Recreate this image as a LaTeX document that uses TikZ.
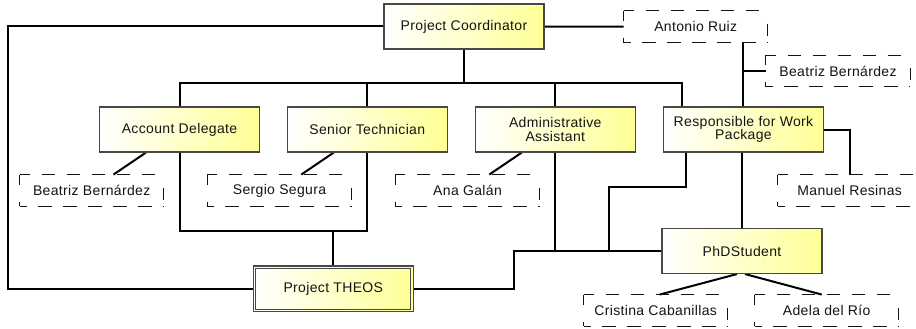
\documentclass[tikz,border=0pt]{standalone}
\usepackage{fontspec}
\setmainfont{Liberation Sans}[LetterSpace=2.5]
\usetikzlibrary{calc,backgrounds}

\definecolor{boxyellow}{RGB}{255,255,150}
\definecolor{rim}{RGB}{72,72,72}
\definecolor{ink}{RGB}{20,20,20}
\newcommand\lbl{\fontsize{14pt}{13.5pt}\selectfont}

\tikzset{
  role/.style={rectangle, draw=rim, line width=1.1pt, left color=white, right color=boxyellow,
    minimum width=160pt, minimum height=45pt, inner sep=0pt, align=center, font=\lbl, text=ink},
  dashline/.style={draw=ink, line width=1pt},
  dashtop/.style={dashline, dash pattern=on 13pt off 12pt, dash phase=3pt},
  dashbottom/.style={dashline, dash pattern=on 14pt off 11pt, dash phase=7pt},
  dashleft/.style={dashline, dash pattern=on 10pt off 17pt on 10pt off 10pt},
  dashright/.style={dashline, dash pattern=on 0pt off 13pt on 12pt off 20pt},
  person/.style={rectangle, minimum width=144pt, minimum height=31.5pt, inner sep=0pt,
    font=\lbl, text=ink,
    append after command={
      (\tikzlastnode.north west) edge[dashtop] (\tikzlastnode.north east)
      (\tikzlastnode.south west) edge[dashbottom] (\tikzlastnode.south east)
      (\tikzlastnode.north west) edge[dashleft] (\tikzlastnode.south west)
      (\tikzlastnode.north east) edge[dashright] (\tikzlastnode.south east)}},
  link/.style={draw=black, line width=2pt},
}

\begin{document}
\begin{tikzpicture}[x=1pt, y=-1pt]
  \useasboundingbox (0,0) rectangle (916,329);
  \clip (0,0) rectangle (916,329);

  % roles
  \node[role] (pc)  at (464,26.5)   {Project Coordinator};
  \node[role] (ad)  at (179.5,129.5) {Account Delegate};
  \node[role] (st)  at (367.3,129.5) {Senior Technician};
  \node[role] (aa)  at (555.3,129.5) {Administrative\\Assistant};
  \node[role] (rwp) at (743.5,129.5) {Responsible for Work\\Package};
  \node[role, minimum height=45.7pt] (theos) at (333.3,288.8) {Project THEOS};
  \node[role] (phd) at (742,251)     {PhDStudent};
  \draw[draw=rim, line width=0.9pt] ([shift={(3,3)}]theos.north west) rectangle ([shift={(-3,-3)}]theos.south east);

  % people
  \node[person] (ar)  at (695.7,26.7)  {Antonio Ruiz};
  \node[person] (bbr) at (838,71)      {Beatriz Bernárdez};
  \node[person] (bbl) at (91.7,190.5)  {Beatriz Bernárdez};
  \node[person] (ss)  at (279.5,190.5) {Sergio Segura};
  \node[person] (ag)  at (467.5,190.5) {Ana Galán};
  \node[person] (mr)  at (849.7,190.5) {Manuel Resinas};
  \node[person] (cc)  at (655.7,310.5) {Cristina Cabanillas};
  \node[person] (adr) at (826.7,310.5) {Adela del Río};

  % junction points
  \coordinate (farleft) at (8.3,288.8);
  \coordinate (bus)     at (464,82.7);
  \coordinate (joinlow) at (333.3,231);
  \coordinate (stepup)  at (514.3,251);
  \coordinate (kink)    at (608.7,186.7);
  \coordinate (arfoot)  at ([xshift=-25pt]ar.south east);
  \coordinate (rwpfoot) at ([xshift=22.7pt]rwp.south west);
  \coordinate (rwptop)  at ([xshift=18.7pt]rwp.north west);

  \begin{scope}[on background layer]
    \fill[white] (0,0) rectangle (916,329);
    \draw[link] (pc.west) -| (farleft) -- (theos.west);
    \draw[link] (pc.east) -- (ar.west);
    \draw[link] (pc.south) -- (bus);
    \draw[link] (ad.north) |- (bus) -| (rwptop);
    \draw[link] (st.north) -- (st.north |- bus);
    \draw[link] (aa.north) -- (aa.north |- bus);
    \draw[link] (arfoot) -- (arfoot |- rwp.north);
    \draw[link] (bbr.west) -- (bbr.west -| arfoot);
    \draw[link] (rwp.east) -| (mr.north);
    \draw[link] (phd.north) -- (phd.north |- rwp.south);
    \draw[link] (rwpfoot) |- (kink) -- (kink |- phd.west);
    \draw[link] (theos.east) -| (stepup) -- (phd.west);
    \draw[link] (aa.south) -- (aa.south |- phd.west);
    \draw[link] (ad.south) |- (joinlow) -| (st.south);
    \draw[link] (theos.north) -- (joinlow);
    \draw[link] ([xshift=47pt]ad.south west) -- ([xshift=94pt]bbl.north west);
    \draw[link] ([xshift=47pt]st.south west) -- ([xshift=94pt]ss.north west);
    \draw[link] ([xshift=47pt]aa.south west) -- ([xshift=94pt]ag.north west);
    \draw[link] ([xshift=-5pt]phd.south) -- ([xshift=4pt]cc.north);
    \draw[link] ([xshift=3pt]phd.south) -- ([xshift=-5pt]adr.north);
  \end{scope}
\end{tikzpicture}
\end{document}
